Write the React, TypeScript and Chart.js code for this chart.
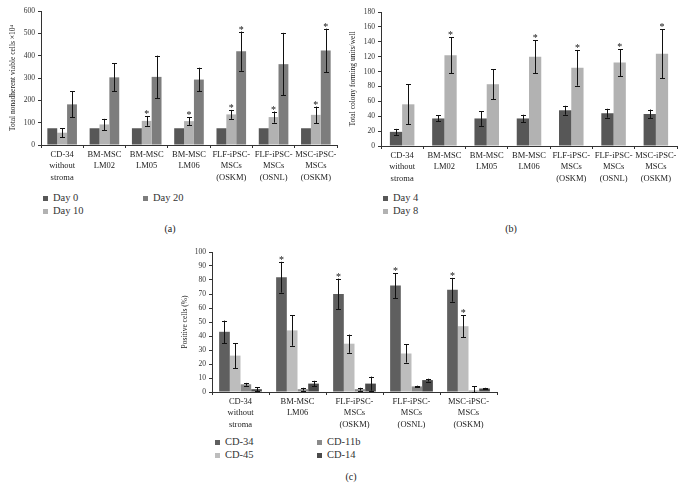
import React, { useEffect, useRef } from "react";
import { Chart, registerables } from "chart.js";
Chart.register(...registerables);

const FONT = "'Liberation Serif', 'DejaVu Serif', serif";

// ---------- Panel (a) ----------
const categoriesA = [
  ["CD-34", "without", "stroma"],
  ["BM-MSC", "LM02"],
  ["BM-MSC", "LM05"],
  ["BM-MSC", "LM06"],
  ["FLF-iPSC-", "MSCs", "(OSKM)"],
  ["FLF-iPSC-", "MSCs", "(OSNL)"],
  ["MSC-iPSC-", "MSCs", "(OSKM)"],
];
const day0 = [75, 75, 75, 75, 75, 75, 75];
const day10 = [55, 92, 108, 107, 137, 125, 135];
const day10Err = [20, 25, 22, 17, 20, 25, 37];
const day10Star = [false, false, true, true, true, true, true];
const day20 = [182, 303, 305, 293, 420, 362, 423];
const day20Err = [58, 62, 95, 53, 88, 140, 98];
const day20Star = [false, false, false, false, true, false, true];
const ticksA = [0, 100, 200, 300, 400, 500, 600];

// ---------- Panel (b) ----------
const categoriesB = categoriesA;
const day4 = [19, 37, 37, 37, 48, 44, 43];
const day4Err = [4, 4, 10, 5, 6, 6, 6];
const day8 = [56, 122, 83, 120, 105, 112, 124];
const day8Err = [27, 24, 20, 22, 24, 18, 33];
const day8Star = [false, true, false, true, true, true, true];
const ticksB = [0, 20, 40, 60, 80, 100, 120, 140, 160, 180];

// ---------- Panel (c) ----------
const categoriesC = [
  ["CD-34", "without", "stroma"],
  ["BM-MSC", "LM06"],
  ["FLF-iPSC-", "MSCs", "(OSKM)"],
  ["FLF-iPSC-", "MSCs", "(OSNL)"],
  ["MSC-iPSC-", "MSCs", "(OSKM)"],
];
const cd34 = [43, 82, 70, 76, 73];
const cd34Err = [8, 11, 11, 9, 8.5];
const cd34Star = [false, true, true, true, true];
const cd45 = [26, 44, 34.5, 27.5, 47];
const cd45Err = [9, 11, 6.5, 6.5, 8];
const cd45Star = [false, false, false, false, true];
const cd11b = [5.5, 2, 2, 4, 1];
const cd11bErr = [1, 1, 1, 0.5, 3];
const cd14 = [2, 6, 6, 8.5, 2.5];
const cd14Err = [1.5, 2, 5, 1, 0.5];
const ticksC = [0, 10, 20, 30, 40, 50, 60, 70, 80, 90, 100];

const errorBarPlugin = {
  id: "errbars",
  afterDatasetsDraw(chart: any) {
    const ctx = chart.ctx;
    const ys = chart.scales.y;
    ctx.save();
    chart.data.datasets.forEach((ds: any, i: number) => {
      const meta = chart.getDatasetMeta(i);
      meta.data.forEach((el: any, j: number) => {
        const v = ds.data[j];
        const e = ds.errors ? ds.errors[j] : null;
        let topY = ys.getPixelForValue(v);
        if (e != null) {
          topY = ys.getPixelForValue(v + e);
          const botY = ys.getPixelForValue(Math.max(0, v - e));
          const x = Math.round(el.x) + 0.5;
          ctx.strokeStyle = "#111";
          ctx.lineWidth = 1;
          ctx.beginPath();
          ctx.moveTo(x, topY);
          ctx.lineTo(x, botY);
          ctx.moveTo(x - 2.5, Math.round(topY) + 0.5);
          ctx.lineTo(x + 2.5, Math.round(topY) + 0.5);
          ctx.moveTo(x - 2.5, Math.round(botY) + 0.5);
          ctx.lineTo(x + 2.5, Math.round(botY) + 0.5);
          ctx.stroke();
        }
        if (ds.stars && ds.stars[j]) {
          ctx.fillStyle = "#111";
          ctx.font = `10px ${FONT}`;
          ctx.textAlign = "center";
          ctx.textBaseline = "alphabetic";
          ctx.fillText("*", el.x, topY + 1);
        }
      });
    });
    ctx.restore();
  },
};

type PanelProps = {
  left: number;
  top: number;
  width: number;
  height: number;
  yWidth: number;
  xHeight: number;
  padTop: number;
  padRight: number;
  titlePad: number;
  yTitle: string;
  ticks: number[];
  labels: string[][];
  datasets: any[];
  catPct: number;
};

function Panel(p: PanelProps) {
  const ref = useRef<HTMLCanvasElement | null>(null);
  useEffect(() => {
    if (!ref.current) return;
    const chart = new Chart(ref.current, {
      type: "bar",
      data: { labels: p.labels as any, datasets: p.datasets },
      plugins: [errorBarPlugin],
      options: {
        responsive: false,
        animation: false,
        devicePixelRatio: 1,
        layout: { padding: { top: p.padTop, right: p.padRight, left: 0, bottom: 0 } },
        datasets: { bar: { categoryPercentage: p.catPct, barPercentage: 1 } },
        plugins: { legend: { display: false }, tooltip: { enabled: false } },
        scales: {
          x: {
            grid: { drawOnChartArea: false, drawTicks: true, tickLength: 3, color: "#333", offset: true },
            border: { color: "#333", width: 1 },
            ticks: {
              color: "#222",
              font: { family: FONT, size: 8.5, lineHeight: 1.35 },
              padding: 1,
              maxRotation: 0,
              autoSkip: false,
            },
            afterFit: (s: any) => {
              s.height = p.xHeight;
            },
          },
          y: {
            min: p.ticks[0],
            max: p.ticks[p.ticks.length - 1],
            afterBuildTicks: (s: any) => {
              s.ticks = p.ticks.map((v) => ({ value: v }));
            },
            grid: { drawOnChartArea: false, drawTicks: true, tickLength: 3, color: "#333" },
            border: { color: "#333", width: 1 },
            ticks: { color: "#333", font: { family: FONT, size: 7.5 }, padding: 3 },
            title: {
              display: true,
              text: p.yTitle,
              color: "#222",
              font: { family: FONT, size: 7.5 },
              padding: { top: p.titlePad, bottom: 0 },
            },
            afterFit: (s: any) => {
              s.width = p.yWidth;
            },
          },
        },
      } as any,
    });
    return () => chart.destroy();
  }, []);
  return (
    <canvas
      ref={ref}
      width={p.width}
      height={p.height}
      style={{ position: "absolute", left: p.left, top: p.top, width: p.width, height: p.height }}
    />
  );
}

function LegendItem({ x, y, color, text }: { x: number; y: number; color: string; text: string }) {
  return (
    <div style={{ position: "absolute", left: x, top: y - 7, height: 14, display: "flex", alignItems: "center", whiteSpace: "nowrap" }}>
      <span style={{ display: "inline-block", width: 5, height: 5, background: color, marginRight: 5 }} />
      <span style={{ fontFamily: FONT, fontSize: 10.5, color: "#333", lineHeight: "14px" }}>{text}</span>
    </div>
  );
}

function Caption({ x, y, text }: { x: number; y: number; text: string }) {
  return (
    <div style={{ position: "absolute", left: x - 20, top: y - 7, width: 40, textAlign: "center", fontFamily: FONT, fontSize: 10, color: "#222", lineHeight: "14px" }}>
      {text}
    </div>
  );
}

const C0 = "#575757";
const C10 = "#b2b2b2";
const C20 = "#7d7d7d";

export default function App() {
  return (
    <div style={{ position: "absolute", left: 0, top: 0, width: 683, height: 489, background: "#fff", overflow: "hidden" }}>
      <Panel
        left={0}
        top={0}
        width={340}
        height={185}
        yWidth={41}
        xHeight={40}
        padTop={11}
        padRight={3}
        titlePad={9}
        yTitle={"Total nonadherent viable cells \u00d710\u2074"}
        ticks={ticksA}
        labels={categoriesA}
        catPct={0.7}
        datasets={[
          { label: "Day 0", data: day0, backgroundColor: C0 },
          { label: "Day 10", data: day10, backgroundColor: C10, errors: day10Err, stars: day10Star },
          { label: "Day 20", data: day20, backgroundColor: C20, errors: day20Err, stars: day20Star },
        ]}
      />
      <Panel
        left={340}
        top={0}
        width={343}
        height={185}
        yWidth={41}
        xHeight={39}
        padTop={12}
        padRight={6}
        titlePad={9}
        yTitle={"Total colony forming units/well"}
        ticks={ticksB}
        labels={categoriesB}
        catPct={0.58}
        datasets={[
          { label: "Day 4", data: day4, backgroundColor: C0, errors: day4Err },
          { label: "Day 8", data: day8, backgroundColor: C10, errors: day8Err, stars: day8Star },
        ]}
      />
      <Panel
        left={176}
        top={240}
        width={324}
        height={192}
        yWidth={36}
        xHeight={40}
        padTop={12}
        padRight={3}
        titlePad={5}
        yTitle={"Positive cells (%)"}
        ticks={ticksC}
        labels={categoriesC}
        catPct={0.75}
        datasets={[
          { label: "CD-34", data: cd34, backgroundColor: "#5f5f5f", errors: cd34Err, stars: cd34Star },
          { label: "CD-45", data: cd45, backgroundColor: "#bdbdbd", errors: cd45Err, stars: cd45Star },
          { label: "CD-11b", data: cd11b, backgroundColor: "#8a8a8a", errors: cd11bErr },
          { label: "CD-14", data: cd14, backgroundColor: "#4a4a4a", errors: cd14Err },
        ]}
      />
      <LegendItem x={43} y={198} color={C0} text="Day 0" />
      <LegendItem x={43} y={211} color={C10} text="Day 10" />
      <LegendItem x={143} y={198} color={C20} text="Day 20" />
      <Caption x={170} y={229} text="(a)" />

      <LegendItem x={383} y={198} color={C0} text="Day 4" />
      <LegendItem x={383} y={211} color={C10} text="Day 8" />
      <Caption x={511} y={229} text="(b)" />

      <LegendItem x={215} y={442} color="#5f5f5f" text="CD-34" />
      <LegendItem x={215} y={455} color="#bdbdbd" text="CD-45" />
      <LegendItem x={317} y={442} color="#8a8a8a" text="CD-11b" />
      <LegendItem x={317} y={455} color="#4a4a4a" text="CD-14" />
      <Caption x={351} y={477} text="(c)" />
    </div>
  );
}
